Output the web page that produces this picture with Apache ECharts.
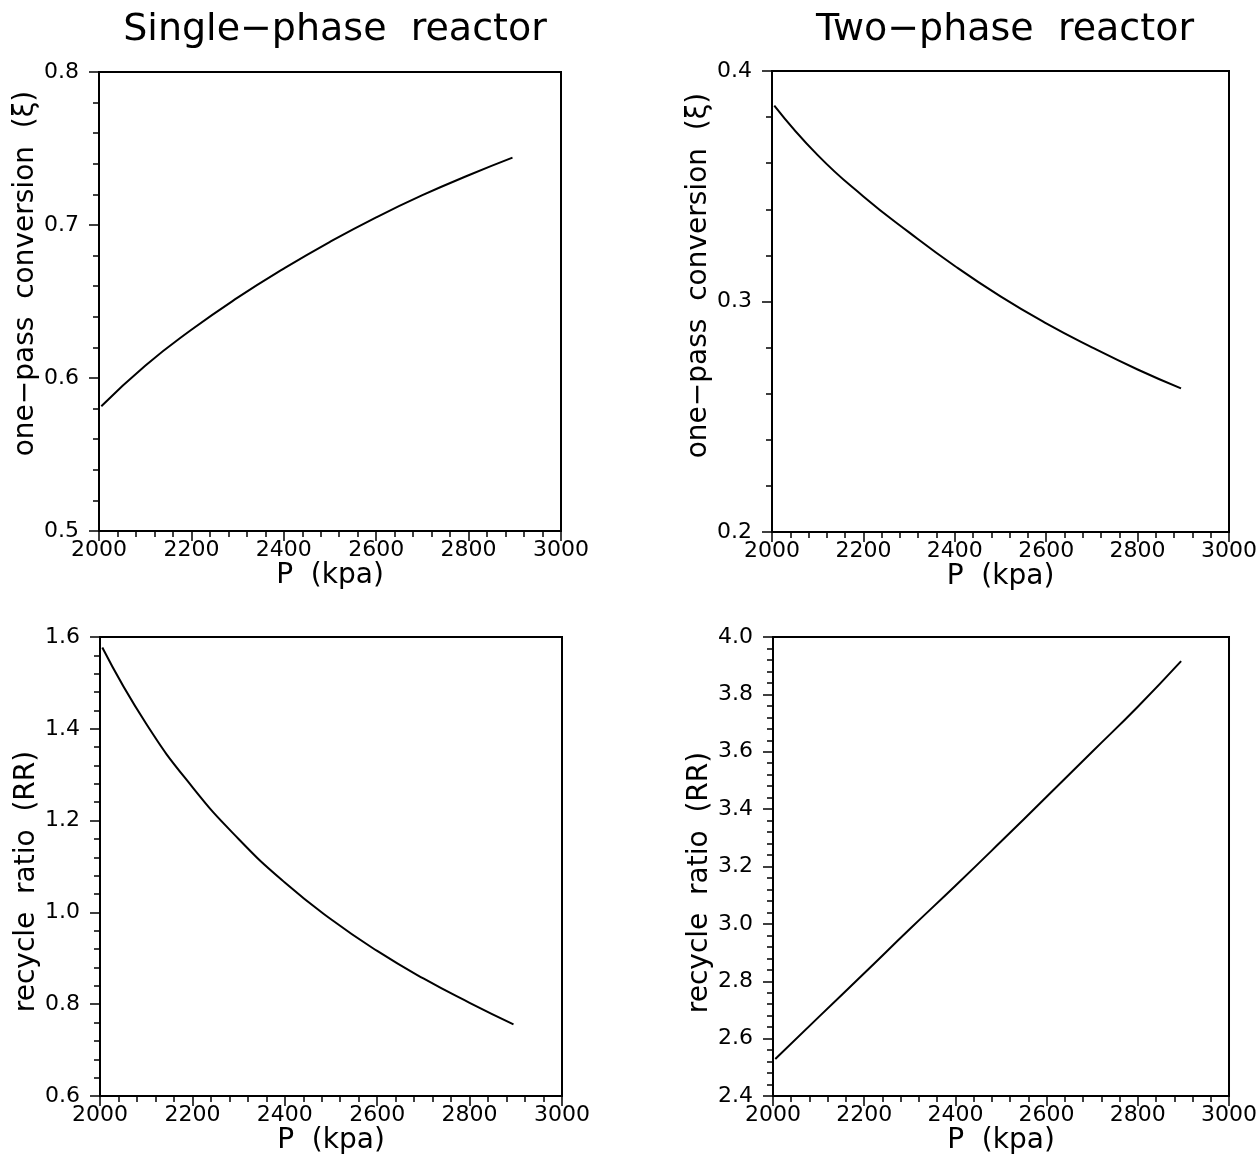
<!DOCTYPE html>
<html>
<head>
<meta charset="utf-8">
<title>Single-phase vs two-phase reactor</title>
<script src="https://cdn.jsdelivr.net/npm/echarts@6/dist/echarts.min.js"></script>
<style>
  html, body { margin: 0; padding: 0; background: #fff; }
  #chart { width: 1260px; height: 1157px; }
</style>
</head>
<body>
<div id="chart"></div>
<script>
// 压力 (kpa)
const pressure = [2005, 2100, 2200, 2300, 2400, 2500, 2600, 2700, 2800, 2895];
// one-pass conversion
const convSingle = [0.5815, 0.608, 0.6315, 0.6525, 0.6715, 0.689, 0.705, 0.7195, 0.7325, 0.744];
const convTwo = [0.385, 0.3635, 0.3456, 0.330, 0.3154, 0.3022, 0.2905, 0.2801, 0.2705, 0.2623];
// recycle ratio
const rrSingle = [1.577, 1.411, 1.273, 1.160, 1.065, 0.985, 0.916, 0.856, 0.803, 0.756];
const rrTwo = [2.529, 2.675, 2.828, 2.982, 3.133, 3.287, 3.443, 3.600, 3.757, 3.916];

const titles = ['Single\u2212phase  reactor', 'Two\u2212phase  reactor'];
const xName = 'P  (kpa)';
const yNames = ['one\u2212pass  conversion  (\u03be)', 'recycle  ratio  (RR)'];

const FONT = 'DejaVu Sans';
const BLACK = '#000';

let pairs = (xs, ys) => xs.map((x, i) => [x, ys[i]]);

let makeX = (gi) => ({
  type: 'value',
  gridIndex: gi,
  min: 2000,
  max: 3000,
  interval: 200,
  name: xName,
  nameLocation: 'middle',
  nameGap: 30,
  nameTextStyle: { color: BLACK, fontFamily: FONT, fontSize: 28 },
  axisLine: { show: true, lineStyle: { color: BLACK, width: 2 } },
  axisTick: { show: true, inside: false, length: 10, lineStyle: { color: BLACK, width: 1.5 } },
  minorTick: { show: true, splitNumber: 5, length: 6, lineStyle: { color: BLACK, width: 1.5 } },
  splitLine: { show: false },
  axisLabel: {
    color: BLACK, fontFamily: FONT, fontSize: 22, margin: 8,
    formatter: (v) => String(v)
  }
});

let makeY = (gi, min, max, interval, name, gap, pad) => ({
  type: 'value',
  gridIndex: gi,
  min: min,
  max: max,
  interval: interval,
  name: name,
  nameLocation: 'middle',
  nameGap: gap,
  nameTextStyle: { color: BLACK, fontFamily: FONT, fontSize: 28, padding: pad },
  axisLine: { show: true, lineStyle: { color: BLACK, width: 2 } },
  axisTick: { show: true, inside: false, length: 10, lineStyle: { color: BLACK, width: 1.5 } },
  minorTick: { show: true, splitNumber: 5, length: 6, lineStyle: { color: BLACK, width: 1.5 } },
  splitLine: { show: false },
  axisLabel: {
    color: BLACK, fontFamily: FONT, fontSize: 22, margin: 20,
    formatter: (v) => v.toFixed(1)
  }
});

let makeLine = (gi, ys) => ({
  type: 'line',
  xAxisIndex: gi,
  yAxisIndex: gi,
  data: pairs(pressure, ys),
  smooth: true,
  showSymbol: false,
  silent: true,
  lineStyle: { color: BLACK, width: 2 },
  itemStyle: { color: BLACK }
});

let gridBox = { show: true, borderColor: BLACK, borderWidth: 2, backgroundColor: 'transparent' };
let titleStyle = { color: BLACK, fontFamily: FONT, fontSize: 38, fontWeight: 'normal' };

let dom = document.getElementById('chart');
let myChart = echarts.init(dom, null, { renderer: 'canvas' });

myChart.setOption({
  backgroundColor: '#fff',
  animation: false,
  title: [
    { text: titles[0], left: 330, top: 6, textAlign: 'center', textStyle: titleStyle },
    { text: titles[1], left: 1000, top: 6, textAlign: 'center', textStyle: titleStyle }
  ],
  grid: [
    Object.assign({ left: 99, top: 72, width: 462, height: 459 }, gridBox),
    Object.assign({ left: 772, top: 71, width: 457, height: 461 }, gridBox),
    Object.assign({ left: 100, top: 637, width: 462, height: 459 }, gridBox),
    Object.assign({ left: 773, top: 637, width: 457, height: 459 }, gridBox)
  ],
  xAxis: [makeX(0), makeX(1), makeX(2), makeX(3)],
  yAxis: [
    makeY(0, 0.5, 0.8, 0.1, yNames[0], 55, [0, 0, 0, 56]),
    makeY(1, 0.2, 0.4, 0.1, yNames[0], 56, [0, 0, 0, 52]),
    makeY(2, 0.6, 1.6, 0.2, yNames[1], 55, [0, 30, 0, 0]),
    makeY(3, 2.4, 4.0, 0.2, yNames[1], 56, [0, 32, 0, 0])
  ],
  series: [
    makeLine(0, convSingle),
    makeLine(1, convTwo),
    makeLine(2, rrSingle),
    makeLine(3, rrTwo)
  ]
});

window.addEventListener('resize', () => myChart.resize());
</script>
</body>
</html>
